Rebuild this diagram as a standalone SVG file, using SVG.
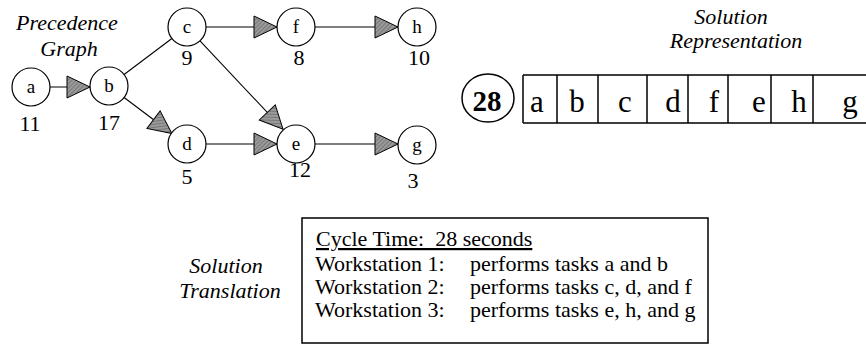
<svg xmlns="http://www.w3.org/2000/svg" width="866" height="345" viewBox="0 0 866 345">
<style>
.node circle{fill:#fff;stroke:#000;stroke-width:1.2}
.edge{stroke:#000;stroke-width:1.1;fill:none}
.box{fill:none;stroke:#000;stroke-width:1.5}
</style>
<defs>
<pattern id="hatch" width="3" height="3" patternUnits="userSpaceOnUse" patternTransform="rotate(45)">
<rect width="3" height="3" fill="#9a9a9a"/>
<line x1="0" y1="0" x2="0" y2="3" stroke="#555" stroke-width="1"/>
</pattern>
<marker id="arr" markerUnits="userSpaceOnUse" markerWidth="26" markerHeight="24" refX="23" refY="11" orient="auto" viewBox="-1 -1 26 24">
<path d="M0,0 L23,11 L0,22 Z" fill="url(#hatch)" stroke="#000" stroke-width="1"/>
</marker>
</defs>

<g id="title-precedence" font-family="Liberation Serif, serif" font-style="italic" font-size="22" text-anchor="middle">
<text x="67" y="30">Precedence</text>
<text x="69" y="56">Graph</text>
</g>

<g id="connectors">
<line class="edge" x1="50" y1="87" x2="90" y2="87" marker-end="url(#arr)"/>
<line class="edge" x1="124.1" y1="74.5" x2="171.9" y2="38.5"/>
<line class="edge" x1="124.1" y1="97.5" x2="171.9" y2="133.5" marker-end="url(#arr)"/>
<line class="edge" x1="206" y1="27" x2="277" y2="27" marker-end="url(#arr)"/>
<line class="edge" x1="315" y1="27" x2="398" y2="27" marker-end="url(#arr)"/>
<line class="edge" x1="200" y1="40.8" x2="283" y2="129.2" marker-end="url(#arr)"/>
<line class="edge" x1="206" y1="144" x2="277" y2="144" marker-end="url(#arr)"/>
<line class="edge" x1="315" y1="144" x2="398" y2="144" marker-end="url(#arr)"/>
</g>

<g font-family="Liberation Serif, serif" text-anchor="middle" fill="#000">
<g id="node-a" class="node"><circle cx="31" cy="87" r="19"/><text font-size="19" x="31" y="93">a</text><text font-size="22" x="30" y="131">11</text></g>
<g id="node-b" class="node"><circle cx="109" cy="86" r="19"/><text font-size="19" x="109" y="92">b</text><text font-size="22" x="109" y="130">17</text></g>
<g id="node-c" class="node"><circle cx="187" cy="27" r="19"/><text font-size="19" x="187" y="33">c</text><text font-size="22" x="187" y="65">9</text></g>
<g id="node-f" class="node"><circle cx="296" cy="27" r="19"/><text font-size="19" x="296" y="33">f</text><text font-size="22" x="299" y="65">8</text></g>
<g id="node-h" class="node"><circle cx="417" cy="27" r="19"/><text font-size="19" x="417" y="33">h</text><text font-size="22" x="419" y="65">10</text></g>
<g id="node-d" class="node"><circle cx="187" cy="144" r="19"/><text font-size="19" x="187" y="150">d</text><text font-size="22" x="187" y="184">5</text></g>
<g id="node-e" class="node"><circle cx="296" cy="144" r="19"/><text font-size="19" x="296" y="150">e</text><text font-size="22" x="300" y="177">12</text></g>
<g id="node-g" class="node"><circle cx="417" cy="145" r="19"/><text font-size="19" x="417" y="151">g</text><text font-size="22" x="413" y="188">3</text></g>
</g>

<g id="title-representation" font-family="Liberation Serif, serif" font-style="italic" font-size="22" text-anchor="middle">
<text x="731" y="24">Solution</text>
<text x="736" y="48">Representation</text>
</g>

<g id="solution-representation" font-family="Liberation Serif, serif" text-anchor="middle">
<ellipse cx="488" cy="98" rx="26" ry="24" fill="none" stroke="#000" stroke-width="1.5"/>
<text x="487" y="111" font-weight="bold" font-size="29">28</text>
<path class="box" d="M523,75 H866 M523,123 H866 M523,75 V123 M557,75 V123 M598,75 V123 M647,75 V123 M688,75 V123 M728,75 V123 M771,75 V123 M813,75 V123"/>
<g font-size="31">
<text x="537" y="112">a</text>
<text x="577" y="112">b</text>
<text x="625" y="112">c</text>
<text x="673" y="112">d</text>
<text x="714" y="112">f</text>
<text x="759" y="112">e</text>
<text x="799" y="112">h</text>
<text x="850" y="112">g</text>
</g>
</g>

<g id="title-translation" font-family="Liberation Serif, serif" font-style="italic" font-size="22" text-anchor="middle">
<text x="226" y="273">Solution</text>
<text x="230" y="298">Translation</text>
</g>

<g id="solution-translation" font-family="Liberation Serif, serif" font-size="22">
<rect x="302" y="218" width="406" height="125" fill="none" stroke="#000" stroke-width="1.5"/>
<text x="316" y="246" text-decoration="underline">Cycle Time:&#160; 28 seconds</text>
<text x="315" y="271">Workstation 1:</text><text x="470" y="271">performs tasks a and b</text>
<text x="315" y="294">Workstation 2:</text><text x="470" y="294">performs tasks c, d, and f</text>
<text x="315" y="317">Workstation 3:</text><text x="470" y="317">performs tasks e, h, and g</text>
</g>
</svg>
